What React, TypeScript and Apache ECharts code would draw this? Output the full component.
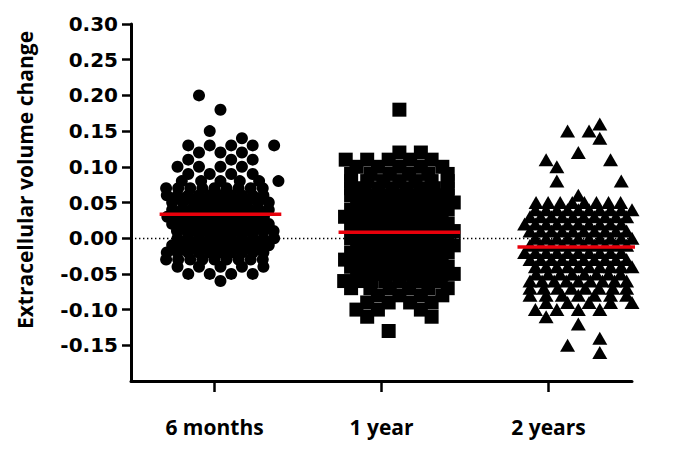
import React, { useEffect, useRef } from "react";
import * as echarts from "echarts";

// ---------- data ----------
const categories = ["6 months", "1 year", "2 years"];
const yTickValues = [-0.15, -0.1, -0.05, 0, 0.05, 0.1, 0.15, 0.2, 0.25, 0.3];

const sixMonths = [
  0.2, 0.18, 0.15, 0.14,
  0.13, 0.13, 0.13, 0.13, 0.13,
  0.12, 0.12, 0.12,
  0.11, 0.11, 0.11,
  0.1, 0.1, 0.1, 0.1,
  0.09, 0.09, 0.09, 0.09,
  0.08, 0.08, 0.08, 0.08, 0.08, 0.08,
  0.07, 0.07, 0.07, 0.07, 0.07, 0.07, 0.07, 0.07, 0.07,
  0.06, 0.06, 0.06, 0.06, 0.06, 0.06, 0.06, 0.06, 0.06, 0.06,
  0.05, 0.05, 0.05, 0.05, 0.05, 0.05, 0.05, 0.05, 0.05, 0.05,
  0.04, 0.04, 0.04, 0.04, 0.04, 0.04, 0.04, 0.04, 0.04, 0.04, 0.04,
  0.03, 0.03, 0.03, 0.03, 0.03, 0.03, 0.03, 0.03, 0.03, 0.03, 0.03,
  0.02, 0.02, 0.02, 0.02, 0.02, 0.02, 0.02, 0.02, 0.02, 0.02, 0.02,
  0.01, 0.01, 0.01, 0.01, 0.01, 0.01, 0.01, 0.01, 0.01, 0.01, 0.01,
  0.0, 0.0, 0.0, 0.0, 0.0, 0.0, 0.0, 0.0, 0.0, 0.0,
  -0.01, -0.01, -0.01, -0.01, -0.01, -0.01, -0.01, -0.01, -0.01, -0.01,
  -0.02, -0.02, -0.02, -0.02, -0.02, -0.02, -0.02, -0.02, -0.02, -0.02,
  -0.03, -0.03, -0.03, -0.03, -0.03, -0.03, -0.03, -0.03, -0.03,
  -0.04, -0.04, -0.04, -0.04, -0.04,
  -0.05, -0.05, -0.05, -0.05,
  -0.06,
];

const oneYear = [
  0.18,
  0.12, 0.12,
  0.11, 0.11, 0.11, 0.11, 0.11,
  0.1, 0.1, 0.1, 0.1, 0.1,
  0.09, 0.09, 0.09, 0.09, 0.09, 0.09,
  0.08, 0.08, 0.08, 0.08, 0.08, 0.08, 0.08,
  0.07, 0.07, 0.07, 0.07, 0.07, 0.07, 0.07, 0.07,
  0.06, 0.06, 0.06, 0.06, 0.06, 0.06, 0.06, 0.06, 0.06,
  0.05, 0.05, 0.05, 0.05, 0.05, 0.05, 0.05, 0.05, 0.05,
  0.04, 0.04, 0.04, 0.04, 0.04, 0.04, 0.04, 0.04, 0.04,
  0.03, 0.03, 0.03, 0.03, 0.03, 0.03, 0.03, 0.03, 0.03,
  0.02, 0.02, 0.02, 0.02, 0.02, 0.02, 0.02, 0.02, 0.02,
  0.01, 0.01, 0.01, 0.01, 0.01, 0.01, 0.01, 0.01, 0.01,
  0.0, 0.0, 0.0, 0.0, 0.0, 0.0, 0.0, 0.0, 0.0,
  -0.01, -0.01, -0.01, -0.01, -0.01, -0.01, -0.01, -0.01, -0.01,
  -0.02, -0.02, -0.02, -0.02, -0.02, -0.02, -0.02, -0.02, -0.02,
  -0.03, -0.03, -0.03, -0.03, -0.03, -0.03, -0.03, -0.03, -0.03,
  -0.04, -0.04, -0.04, -0.04, -0.04, -0.04, -0.04, -0.04, -0.04,
  -0.05, -0.05, -0.05, -0.05, -0.05, -0.05, -0.05, -0.05, -0.05,
  -0.06, -0.06, -0.06, -0.06, -0.06, -0.06, -0.06, -0.06,
  -0.07, -0.07, -0.07, -0.07, -0.07, -0.07,
  -0.08, -0.08, -0.08, -0.08,
  -0.09, -0.09, -0.09, -0.09,
  -0.1, -0.1, -0.1,
  -0.11, -0.11,
  -0.13,
];

const twoYears = [
  0.16,
  0.15, 0.15,
  0.14,
  0.12,
  0.11, 0.11,
  0.1,
  0.08, 0.08,
  0.06,
  0.05, 0.05, 0.05, 0.05, 0.05, 0.05, 0.05, 0.05, 0.05,
  0.04, 0.04, 0.04, 0.04, 0.04, 0.04, 0.04, 0.04, 0.04, 0.04,
  0.03, 0.03, 0.03, 0.03, 0.03, 0.03, 0.03, 0.03, 0.03, 0.03,
  0.02, 0.02, 0.02, 0.02, 0.02, 0.02, 0.02, 0.02, 0.02, 0.02,
  0.01, 0.01, 0.01, 0.01, 0.01, 0.01, 0.01, 0.01, 0.01, 0.01,
  0.0, 0.0, 0.0, 0.0, 0.0, 0.0, 0.0, 0.0, 0.0, 0.0,
  -0.01, -0.01, -0.01, -0.01, -0.01, -0.01, -0.01, -0.01, -0.01, -0.01,
  -0.02, -0.02, -0.02, -0.02, -0.02, -0.02, -0.02, -0.02, -0.02, -0.02,
  -0.03, -0.03, -0.03, -0.03, -0.03, -0.03, -0.03, -0.03, -0.03, -0.03,
  -0.04, -0.04, -0.04, -0.04, -0.04, -0.04, -0.04, -0.04, -0.04, -0.04,
  -0.05, -0.05, -0.05, -0.05, -0.05, -0.05, -0.05, -0.05, -0.05,
  -0.06, -0.06, -0.06, -0.06, -0.06, -0.06, -0.06, -0.06, -0.06,
  -0.07, -0.07, -0.07, -0.07, -0.07, -0.07, -0.07, -0.07,
  -0.08, -0.08, -0.08, -0.08, -0.08, -0.08, -0.08,
  -0.09, -0.09, -0.09, -0.09, -0.09,
  -0.1, -0.1, -0.1, -0.1,
  -0.11, -0.12, -0.14, -0.15, -0.16,
];

// ---------- layout helpers (horizontal spread derived from the data) ----------
const SLOT = 0.06; // half-slot step, in x-axis units
const MAX_SPAN = 9.0 * SLOT; // widest row, centre to centre

function swarm(values: number[], center: number): number[][] {
  const rows = new Map<number, number[]>();
  values.forEach((v) => {
    const k = Math.round(v * 100);
    if (!rows.has(k)) rows.set(k, []);
    rows.get(k)!.push(v);
  });
  const out: number[][] = [];
  rows.forEach((vals, key) => {
    const n = vals.length;
    const k = Math.abs(key);
    const odd = k % 2 === 1;
    const order = odd ? [1, -1, 3, -3] : [0, 2, -2, 4, -4];
    if (n <= order.length) {
      const flip = k % 4 >= 2 ? -1 : 1;
      const m = Math.min(3, order.length - n + 1);
      const start = (k * 7) % m;
      const slots = order.slice(start, start + n);
      vals.forEach((v, i) => out.push([center + slots[i] * flip * SLOT, v]));
    } else {
      const step = Math.min(2 * SLOT, MAX_SPAN / (n - 1));
      const evenN = n % 2 === 0;
      const shift = evenN === odd ? 0 : (k % 4 >= 2 ? -0.5 : 0.5) * step;
      vals.forEach((v, i) =>
        out.push([center + shift + (i - (n - 1) / 2) * step, v])
      );
    }
  });
  return out;
}

function mean(values: number[]): number {
  return values.reduce((a, b) => a + b, 0) / values.length;
}

const groups = [
  { values: sixMonths, symbol: "circle", size: 12 },
  { values: oneYear, symbol: "rect", size: 14 },
  { values: twoYears, symbol: "triangle", size: [15, 13] },
];

const MEAN_HALF = 0.34;

export default function App() {
  const ref = useRef<HTMLDivElement>(null);

  useEffect(() => {
    if (!ref.current) return;
    const chart = echarts.init(ref.current, null, { renderer: "svg" });

    const scatterSeries = groups.map((g, i) => ({
      type: "scatter",
      xAxisIndex: 1,
      yAxisIndex: 0,
      symbol: g.symbol,
      symbolSize: g.size,
      itemStyle: { color: "#000000", opacity: 1 },
      data: swarm(g.values, i),
      z: 3,
      silent: true,
      ...(i === 0
        ? {
            markLine: {
              silent: true,
              symbol: ["none", "none"],
              label: { show: false },
              lineStyle: { color: "#000000", width: 1.4, type: [1.4, 2.6] },
              data: [{ yAxis: 0 }],
              z: 1,
            },
          }
        : {}),
    }));

    const meanSeries = groups.map((g, i) => {
      const m = mean(g.values);
      return {
        type: "line",
        xAxisIndex: 1,
        yAxisIndex: 0,
        symbol: "none",
        silent: true,
        lineStyle: { color: "#e8000b", width: 3.5 },
        data: [
          [i - MEAN_HALF, m],
          [i + MEAN_HALF, m],
        ],
        z: 5,
      };
    });

    chart.setOption({
      animation: false,
      backgroundColor: "#ffffff",
      grid: { left: 131, right: 48, top: 24, bottom: 71 },
      xAxis: [
        {
          type: "category",
          data: categories,
          position: "bottom",
          boundaryGap: true,
          axisLine: {
            show: true,
            onZero: false,
            lineStyle: { color: "#000000", width: 3 },
          },
          axisTick: {
            show: true,
            alignWithLabel: true,
            length: 11,
            lineStyle: { color: "#000000", width: 2.5 },
          },
          axisLabel: {
            color: "#000000",
            fontFamily: "Open Sans",
            fontWeight: "bold",
            fontSize: 21,
            margin: 35,
          },
          splitLine: { show: false },
        },
        {
          type: "value",
          min: -0.5,
          max: 2.3,
          show: false,
          axisLine: { onZero: false },
          splitLine: { show: false },
        },
      ],
      yAxis: {
        type: "value",
        min: -0.2,
        max: 0.3,
        interval: 0.05,
        axisLine: {
          show: true,
          onZero: false,
          lineStyle: { color: "#000000", width: 3 },
        },
        axisTick: {
          show: true,
          length: 9,
          customValues: yTickValues,
          lineStyle: { color: "#000000", width: 2.5 },
        },
        axisLabel: {
          customValues: yTickValues,
          formatter: (v: number) => v.toFixed(2),
          color: "#000000",
          fontFamily: "DejaVu Sans",
          fontWeight: "bold",
          fontSize: 20,
          margin: 13,
        },
        splitLine: { show: false },
      },
      graphic: [
        {
          type: "text",
          x: 25,
          y: 180,
          rotation: Math.PI / 2,
          style: {
            text: "Extracellular volume change",
            fontFamily: "Open Sans",
            fontWeight: "bold",
            fontSize: 21,
            fill: "#000000",
            textAlign: "center",
            textVerticalAlign: "middle",
          },
        },
      ],
      series: [...scatterSeries, ...meanSeries],
    });

    return () => chart.dispose();
  }, []);

  return (
    <div
      ref={ref}
      style={{
        position: "fixed",
        left: 0,
        top: 0,
        width: 680,
        height: 452,
        background: "#ffffff",
      }}
    />
  );
}
